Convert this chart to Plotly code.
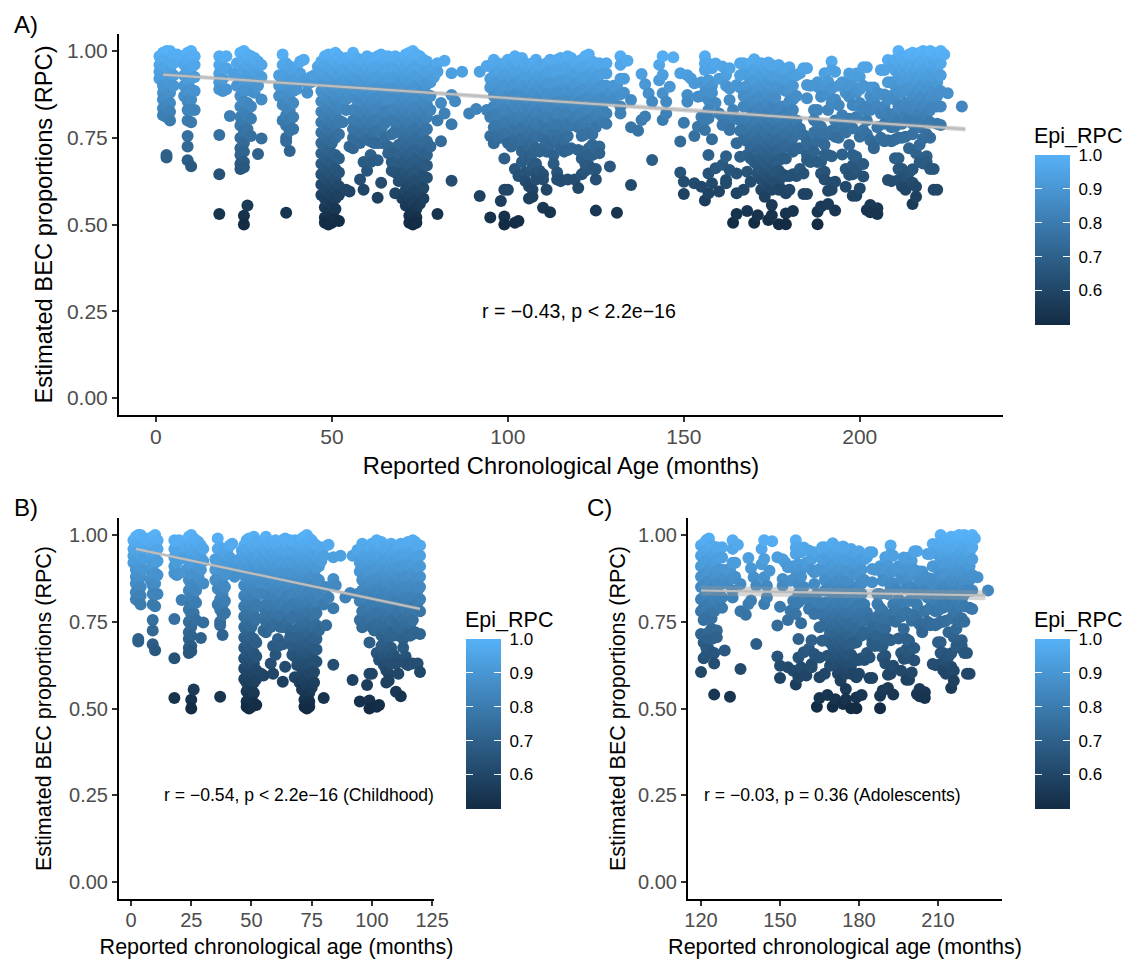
import plotly.graph_objects as go

W, H = 1128, 959

# Samples: (age in months, Epi_RPC values at that age)
infant = [
(1,[.985,.96,.94,.92]),(2,[.995,.975,.95,.93,.90,.88,.86,.835,.815]),(3,[1.0,.98,.955,.925,.895,.87,.84,.81,.70,.693]),
(4,[1.0,.97,.945,.91,.88,.85,.825,.80]),(5,[.99,.965,.93,.90]),(6,[.99]),(7,[.985]),(8,[.985,.96,.93,.90,.87]),
(9,[.995,.975,.945,.915,.885,.855,.83,.80,.755,.725,.685]),(10,[1.0,.98,.95,.92,.89,.86,.83,.795,.668]),(11,[.985,.96,.925,.885,.83]),
(18,[.985,.96,.935,.91,.89,.758,.645,.53]),(19,[.98,.95,.92,.885]),(20,[.985,.95,.89]),(21,[.813]),(22,[.935]),
(23,[.965,.93,.90]),(24,[.995,.96,.93,.90,.87,.84,.81,.785,.75,.72,.70,.675,.66]),
(25,[1.0,.975,.945,.915,.885,.855,.825,.80,.77,.735,.71,.68,.665,.525,.50]),(26,[.99,.96,.93,.89,.85,.815,.775,.555]),
(27,[.985,.955,.92,.885,.84,.805,.755]),(28,[.98,.945,.91,.88]),(29,[.97,.935,.90,.703]),(30,[.96,.925,.86,.748]),
(35,[.93,.90,.87]),(36,[.99,.96,.93,.90,.87,.845,.80]),(37,[.965,.935,.905,.875,.84,.815,.785,.75,.74,.534]),
(38,[.955,.925,.895,.86,.83,.80,.77,.712]),(39,[.945,.915,.885,.85,.81,.775]),(40,[.955,.92,.89]),(41,[.97,.935]),
(42,[.975,.915]),(43,[.905,.88]),(44,[.925,.91]),(45,[.93]),(46,[.955,.93]),
]
school = [
(47,[.97,.945,.915,.885,.855,.825,.795,.765,.735,.705,.675,.645,.615,.585]),
(48,[.985,.96,.935,.905,.875,.845,.815,.785,.755,.725,.695,.665,.635,.605,.575,.55,.52,.505]),
(49,[.99,.955,.925,.895,.865,.835,.805,.775,.745,.715,.685,.655,.625,.595,.565,.535,.51,.50]),
(50,[.98,.95,.915,.885,.855,.825,.795,.765,.735,.705,.675,.645,.615,.585,.555,.525,.505]),
(51,[.995,.97,.94,.905,.875,.845,.815,.785,.75,.70,.66,.63,.60,.575,.545,.515]),
(52,[.985,.96,.93,.895,.865,.835,.80,.76,.69,.65,.61,.585,.51]),(53,[.975,.945,.91,.88,.85,.795]),
(54,[.98,.95,.92,.89,.86,.83,.60]),(55,[.975,.94,.91,.88,.725,.595]),(56,[.995,.96,.93,.90,.87,.83,.80,.775,.75,.72]),
(57,[.98,.95,.92,.89,.86,.83,.80,.77,.745]),(58,[.975,.945,.915,.885,.855,.825,.795,.765,.735,.63]),
(59,[.97,.94,.91,.88,.85,.82,.79,.76,.68,.60]),(60,[.985,.955,.925,.895,.865,.835,.805,.775,.745,.655]),
(61,[.97,.94,.91,.88,.85,.82,.79,.74,.70,.68]),(62,[.98,.95,.92,.89,.86,.83,.80,.765,.735]),
(63,[.985,.955,.925,.895,.865,.835,.805,.77,.735,.685,.577]),(64,[.99,.96,.93,.90,.87,.84,.81,.775,.735,.62]),
(65,[.975,.945,.915,.885,.855,.825,.79,.75]),(66,[.985,.955,.925,.895,.865,.825,.725,.705]),
(67,[.98,.95,.92,.89,.86,.83,.80,.76,.71,.68,.655]),(68,[.985,.955,.925,.895,.865,.835,.80,.77,.705,.68,.65,.59]),
(69,[.98,.95,.92,.89,.86,.83,.795,.765,.73,.705,.645,.625]),(70,[.97,.94,.91,.88,.85,.82,.79,.76,.73,.675,.64,.575]),
(71,[.99,.955,.925,.895,.865,.835,.805,.775,.745,.715,.685,.655,.625,.60,.57,.555]),
(72,[.995,.97,.94,.91,.88,.85,.82,.79,.76,.73,.70,.67,.64,.61,.58,.55,.525,.505]),
(73,[1.0,.98,.95,.92,.89,.86,.83,.80,.77,.74,.71,.68,.65,.62,.59,.565,.535,.515,.50]),
(74,[.99,.96,.93,.90,.87,.84,.81,.78,.75,.72,.69,.66,.63,.60,.575,.545,.52,.505]),
(75,[.985,.955,.925,.895,.865,.835,.805,.775,.745,.715,.685,.655,.625,.595,.56]),
(76,[.975,.945,.915,.885,.855,.825,.795,.765,.735,.705,.675,.64,.605,.575]),
(77,[.97,.94,.905,.875,.845,.81,.775,.74,.70,.67,.635]),(78,[.945,.91,.87,.83,.725]),(79,[.955,.925]),
(80,[.965,.94,.80,.53]),(81,[.85,.74]),(82,[.972,.82]),(84,[.936,.873,.789,.626]),(85,[.855]),(87,[.94]),(89,[.82]),(91,[.833]),
]
childhood = [
(92,[.94,.582]),(94,[.957,.83]),(95,[.957,.92,.895,.83,.81,.755,.52]),(96,[.975,.93,.905,.87,.84,.81,.78,.75,.734]),
(97,[.965,.94,.91,.88,.845,.82,.785,.755]),(98,[.945,.915,.89,.855,.815,.78,.75,.568]),
(99,[.965,.93,.90,.86,.83,.79,.76,.69,.60,.523,.50]),(100,[.975,.94,.905,.87,.84,.80,.765,.735,.60]),
(101,[.96,.925,.895,.86,.825,.785,.725]),(102,[.985,.945,.91,.875,.845,.805,.775,.745,.66,.505]),
(103,[.97,.935,.905,.87,.835,.80,.77,.735,.64,.51]),(104,[.98,.945,.915,.88,.85,.815,.78,.75,.71,.68]),
(105,[.965,.93,.90,.87,.835,.805,.775,.74,.70,.65,.625]),(106,[.955,.925,.89,.86,.825,.795,.76,.725,.69,.61,.575]),
(107,[.965,.935,.905,.875,.84,.805,.775,.74,.705,.665,.60,.58]),(108,[.975,.945,.915,.885,.855,.82,.79,.755,.72,.675,.645,.63]),
(109,[.96,.93,.90,.865,.83,.80,.76,.71,.655]),(110,[.955,.92,.89,.855,.82,.785,.75,.72,.645,.63,.548]),
(111,[.965,.935,.905,.875,.84,.81,.775,.74,.71,.60]),(112,[.975,.945,.91,.88,.85,.815,.78,.73,.535]),
(113,[.97,.94,.905,.87,.835,.80,.76,.70,.675]),(114,[.975,.945,.91,.88,.85,.82,.785,.745,.65,.63]),
(115,[.98,.95,.915,.885,.855,.825,.79,.76,.72,.63,.625]),(116,[.975,.945,.91,.88,.85,.815,.78,.745,.71]),
(117,[.985,.955,.92,.89,.86,.825,.79,.755,.715,.63]),(118,[.98,.945,.915,.885,.85,.82,.785,.72]),
(119,[.965,.935,.905,.87,.84,.805,.63]),
]
adolescent = [
(120,[.97,.94,.91,.88,.85,.815,.78,.715,.605]),(121,[.975,.95,.92,.885,.855,.82,.79,.755,.71,.69,.645]),
(122,[.985,.955,.925,.89,.86,.825,.795,.76,.70,.675,.655]),(123,[.99,.96,.93,.895,.865,.83,.80,.765,.72,.70,.67]),
(124,[.97,.935,.905,.87,.84,.805,.76,.73,.70,.66]),(125,[.95,.92,.885,.85,.815,.78,.72,.66,.63,.54]),
(126,[.965,.93,.895,.86,.82,.725,.705]),(127,[.935,.90,.865,.83,.80]),(128,[.965,.935,.90,.86,.82,.79]),
(129,[.88,.667]),(130,[.90,.86]),(131,[.90,.534]),(132,[.985,.96,.92,.875,.84,.82]),(133,[.92,.88]),(134,[.972]),
(135,[.859,.78,.614]),(137,[.77]),(138,[.934,.801]),(139,[.904,.811]),(140,[.878]),(141,[.854,.686]),
(143,[.96,.916]),(144,[.985,.931,.878,.801]),(145,[.854,.82]),(146,[.897]),(147,[.982]),(149,[.936,.739,.65]),
(150,[.793,.623,.588]),(151,[.93,.873,.854]),(152,[.921]),(153,[.907,.755,.619]),(154,[.868,.782]),(155,[.91,.87,.81,.609]),
(156,[.985,.964,.945,.90,.88,.80,.772,.569]),(157,[.964,.916,.88,.859,.83,.806,.70,.647,.59]),(158,[.95,.90,.88,.746,.619]),
(159,[.964,.85,.662]),(160,[.92,.82,.595]),(161,[.955,.81,.787,.672]),(162,[.931,.90,.697,.628,.619]),
(163,[.95,.892,.859,.79,.772,.657]),(164,[.83,.81,.505]),(165,[.902,.734,.647,.59,.53]),
(166,[.965,.93,.895,.80,.77,.695]),(167,[.965,.935,.87,.84,.805,.775,.745,.60]),
(168,[.96,.93,.90,.87,.84,.80,.77,.74,.70,.652,.539]),(169,[.965,.935,.905,.875,.845,.81,.78,.75,.72,.69,.623]),
(170,[.976,.945,.915,.885,.855,.82,.79,.76,.73,.68,.505]),(171,[.95,.92,.89,.86,.83,.80,.77,.74,.71,.67,.647,.527]),
(172,[.965,.935,.90,.87,.84,.81,.78,.75,.72,.69,.66,.63,.60]),(173,[.955,.925,.895,.865,.835,.80,.77,.74,.71,.68,.65,.62,.58]),
(174,[.967,.94,.91,.88,.85,.82,.79,.76,.73,.70,.67,.64,.61,.513]),(175,[.96,.93,.90,.87,.84,.81,.78,.75,.72,.69,.66,.63,.60,.556,.527]),
(176,[.955,.925,.895,.865,.83,.80,.77,.74,.71,.68,.65,.62]),(177,[.96,.93,.90,.835,.805,.775,.745,.715,.685,.655,.625,.60,.501]),
(178,[.95,.92,.89,.84,.81,.78,.75,.72,.69,.645,.60]),(179,[.945,.915,.885,.82,.79,.76,.73,.69,.64,.59,.532,.501]),
(180,[.953,.92,.89,.855,.80,.77,.73,.64,.60]),(181,[.93,.90,.86,.83,.78,.75,.71,.645,.539]),(182,[.93,.87,.80,.76,.72,.64]),
(183,[.936,.777,.72,.66]),(184,[.95,.758,.647,.588]),(185,[.95,.902,.864,.74,.70,.686,.588]),(186,[.90,.729,.68]),
(187,[.83,.801,.765,.71]),(188,[.91,.897,.83,.79,.74,.68,.537,.501]),(189,[.89,.868,.782,.76,.681,.647,.552]),
(190,[.936,.90,.73,.70,.652,.63]),(191,[.912,.875,.83,.76,.70,.597,.559]),(192,[.97,.945,.892,.85,.77,.697,.62,.60]),
(193,[.94,.86,.80,.753,.623,.54]),(194,[.90,.844,.78,.75]),(195,[.91,.815,.79,.702]),(196,[.907,.88,.782,.765,.66,.609]),
(197,[.935,.897,.868,.805,.729,.643]),(198,[.93,.90,.844,.777,.70,.671,.645,.583]),(199,[.935,.88,.844,.81,.695,.66,.583]),
(200,[.926,.89,.85,.753,.604]),(201,[.953,.90,.83,.772,.674,.638]),(202,[.953,.84,.80,.76,.542]),(203,[.895,.87,.83,.743,.556,.535]),
(204,[.895,.86,.73,.72]),(205,[.88,.84,.78,.547,.53]),(206,[.945,.875,.82,.75]),(207,[.945,.875,.84,.79,.74]),
(208,[.974,.91,.86,.82,.743,.628]),(209,[.955,.91,.87,.81,.78,.74,.625]),(210,[.975,.945,.90,.86,.82,.782,.745,.691]),
(211,[1.0,.97,.93,.885,.84,.80,.75,.691,.66,.628]),(212,[.985,.95,.915,.88,.83,.79,.75,.66,.63,.61]),
(213,[.97,.935,.89,.85,.81,.753,.64,.60]),(214,[.99,.955,.92,.89,.84,.801,.72,.65]),
(215,[.995,.965,.93,.90,.865,.83,.79,.76,.659,.62,.559]),(216,[.985,.95,.915,.88,.845,.80,.705,.609,.58]),
(217,[.995,.965,.93,.89,.86,.82,.78,.73,.68]),(218,[1.0,.975,.94,.905,.87,.84,.80,.748,.676]),
(219,[.99,.955,.925,.89,.855,.815,.76,.697,.68]),(220,[1.0,.97,.935,.90,.87,.83,.795,.75,.66]),
(221,[.995,.96,.925,.885,.84,.66,.60]),(222,[.985,.95,.91,.87,.84,.79,.60]),(223,[1.0,.965,.93,.885,.84,.787]),
(224,[.99]),(225,[.878]),(229,[.84]),
]

fit_a_x = [2, 230]
fit_a_y = [.932, .775]
fit_a_se = [.006, .007]
fit_b_x = [2, 120]
fit_b_y = [.96, .787]
fit_b_se = [.004, .006]
fit_c_x = [120, 228]
fit_c_y = [.84, .826]
fit_c_se = [.014, .014]

y_ticks = [0, .25, .5, .75, 1]
y_labels = ["0.00", "0.25", "0.50", "0.75", "1.00"]
bar_ticks = [.6, .7, .8, .9, 1.0]
bar_labels = ["\u00a00.6", "\u00a00.7", "\u00a00.8", "\u00a00.9", "\u00a01.0"]
CS = [[0, "#132B43"], [1, "#56B1F7"]]
FONT = "Liberation Sans"

ages, rpc = [], []
for block in (infant, school, childhood, adolescent):
    for a, vals in block:
        for v in vals:
            ages.append(a)
            rpc.append(v)

fig = go.Figure()

def panel(i, box, xr, xt, xtitle, title_size, tick_size, mask, fx, fy, fse, note, note_x, note_size, bar_x, bar_bottom, ttl_standoff, y_standoff):
    sfx = "" if i == 1 else str(i)
    l, r, t, b = box
    xa = [a for a, v in zip(ages, rpc) if mask(a)]
    ya = [v for a, v in zip(ages, rpc) if mask(a)]
    fig.add_trace(go.Scatter(x=xa, y=ya, mode="markers", xaxis="x" + sfx, yaxis="y" + sfx, showlegend=False,
                             marker=dict(size=12, color=ya, coloraxis="coloraxis" + sfx, line=dict(width=0))))
    fig.add_trace(go.Scatter(x=fx + fx[::-1],
                             y=[fy[0] + fse[0], fy[1] + fse[1], fy[1] - fse[1], fy[0] - fse[0]],
                             mode="lines", fill="toself", fillcolor="rgba(153,153,153,0.4)", line=dict(width=0),
                             xaxis="x" + sfx, yaxis="y" + sfx, showlegend=False))
    fig.add_trace(go.Scatter(x=fx, y=fy, mode="lines", line=dict(color="#BEBEBE", width=2.2),
                             xaxis="x" + sfx, yaxis="y" + sfx, showlegend=False))
    # second, label-free strip of the same scale: carries the ticks on the bar's left edge
    mini = i + 3
    fig.add_trace(go.Scatter(x=[None], y=[None], mode="markers", xaxis="x" + sfx, yaxis="y" + sfx, showlegend=False,
                             marker=dict(color=[.8], coloraxis="coloraxis" + str(mini))))
    axis = dict(showgrid=False, zeroline=False, showline=True, linecolor="black", linewidth=2,
                ticks="outside", ticklen=5, tickwidth=1.5, tickcolor="#333333",
                tickfont=dict(family=FONT, size=tick_size, color="#4D4D4D"))
    bar = dict(xpad=0, ypad=0, y=(H - bar_bottom) / H, yanchor="bottom", len=170, lenmode="pixels", outlinewidth=0,
               tickvals=bar_ticks, ticks="inside", ticklen=7, tickwidth=1, tickcolor="white")
    fig.update_layout(**{
        "xaxis" + sfx: dict(axis, domain=[l / W, r / W], range=xr, tickvals=xt, ticktext=[str(v) for v in xt],
                            anchor="y" + sfx, ticklabelstandoff=-3,
                            title=dict(text=xtitle, standoff=ttl_standoff, font=dict(family=FONT, size=title_size, color="black"))),
        "yaxis" + sfx: dict(axis, domain=[(H - b) / H, (H - t) / H], range=[-.049, 1.049], tickvals=y_ticks, ticktext=y_labels,
                            anchor="x" + sfx,
                            title=dict(text="Estimated BEC proportions (RPC)", standoff=y_standoff, font=dict(family=FONT, size=title_size, color="black"))),
        "coloraxis" + sfx: dict(colorscale=CS, cmin=.498, cmax=1.0, colorbar=dict(
            bar, x=bar_x / W, xanchor="left", thickness=35, ticktext=bar_labels,
            tickfont=dict(family=FONT, size=17, color="black"))),
        "coloraxis" + str(mini): dict(colorscale=CS, cmin=.498, cmax=1.0, colorbar=dict(
            bar, x=bar_x / W, xanchor="left", thickness=7, showticklabels=False)),
    })
    fig.add_annotation(x=note_x, y=.25, xref="x" + sfx, yref="y" + sfx, text=note, showarrow=False, xanchor="left",
                       font=dict(family=FONT, size=note_size, color="black"))
    fig.add_annotation(x=(bar_x - 3) / W, y=(H - (bar_bottom - 189)) / H, xref="paper", yref="paper", text="Epi_RPC", showarrow=False,
                       xanchor="left", yanchor="middle", font=dict(family=FONT, size=21.5, color="black"))

panel(1, (119, 1003, 34, 415), [-10.5, 240.7], [0, 50, 100, 150, 200], "Reported Chronological Age (months)", 23.7, 21,
      lambda a: True, fit_a_x, fit_a_y, fit_a_se, "r = −0.43, p < 2.2e−16", 92.2, 19.6, 1035, 325, 10, 8)
panel(2, (119, 434, 518, 899), [-5, 125.8], [0, 25, 50, 75, 100, 125], "Reported chronological age (months)", 21.5, 20,
      lambda a: a <= 120, fit_b_x, fit_b_y, fit_b_se, "r = −0.54, p < 2.2e−16 (Childhood)", 13.0, 17.6, 466, 809, 12, 12)
panel(3, (688, 1002, 518, 899), [115.06, 234.3], [120, 150, 180, 210], "Reported chronological age (months)", 21.5, 20,
      lambda a: a >= 120, fit_c_x, fit_c_y, fit_c_se, "r = −0.03, p = 0.36 (Adolescents)", 120.3, 17.6, 1035, 809, 12, 7)

for label, px, py in (("A)", 12, 25), ("B)", 12, 507), ("C)", 585, 507)):
    fig.add_annotation(x=px / W, y=(H - py) / H, xref="paper", yref="paper", text=label, showarrow=False, xanchor="left", yanchor="middle",
                       font=dict(family=FONT, size=24, color="black"))

fig.update_layout(template="none", width=W, height=H, margin=dict(l=0, r=0, t=0, b=0), paper_bgcolor="white", plot_bgcolor="white")
fig.write_html("out.html", config=dict(displayModeBar=False),
               post_script="document.body.style.margin='0';document.body.style.overflow='hidden';")
